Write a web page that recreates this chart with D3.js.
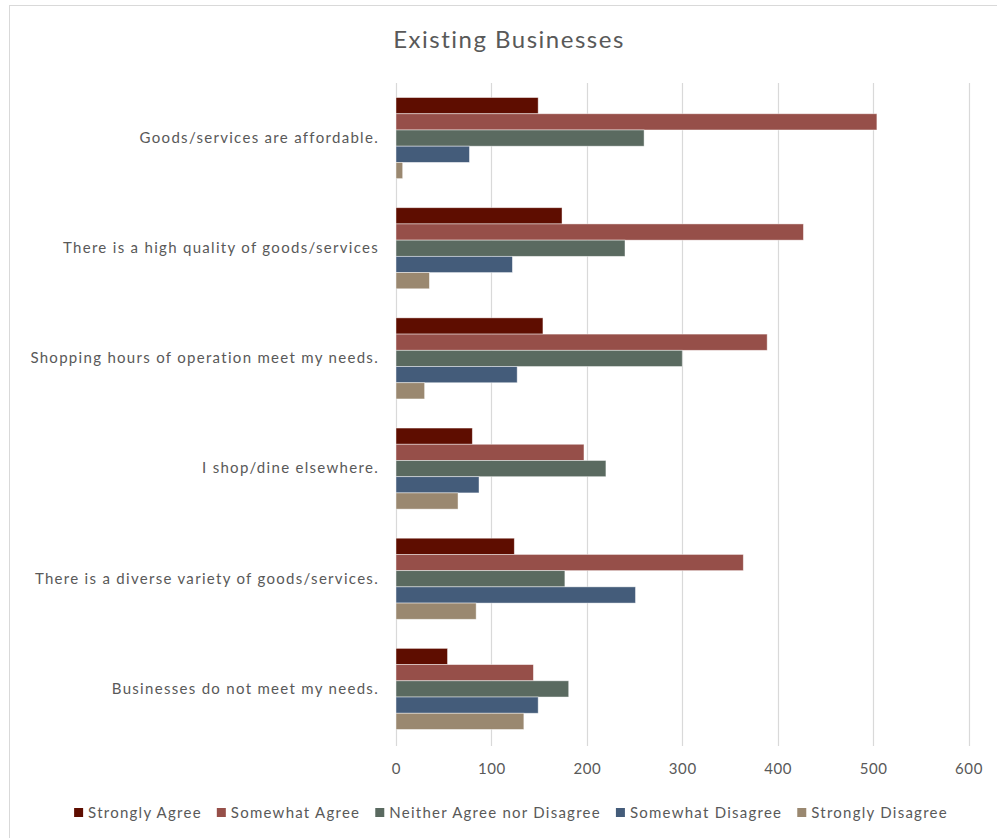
<!DOCTYPE html>
<html>
<head>
<meta charset="utf-8">
<script src="https://cdnjs.cloudflare.com/ajax/libs/d3/7.8.5/d3.min.js"></script>
<style>
  html, body { margin: 0; padding: 0; background: #fff; }
  svg { display: block; }
  text { font-family: Lato, "Open Sans", sans-serif; fill: #595959; }
</style>
</head>
<body>
<svg id="chart" width="997" height="838"></svg>
<script>
// Survey responses about existing businesses
const categories = [
  "Goods/services are affordable.",
  "There is a high quality of goods/services",
  "Shopping hours of operation meet my needs.",
  "I shop/dine elsewhere.",
  "There is a diverse variety of goods/services.",
  "Businesses do not meet my needs."
];
const seriesNames = [
  "Strongly Agree",
  "Somewhat Agree",
  "Neither Agree nor Disagree",
  "Somewhat Disagree",
  "Strongly Disagree"
];
const stronglyAgree     = [149, 174, 154, 80, 124, 54];
const somewhatAgree     = [504, 427, 389, 197, 364, 144];
const neitherAgree      = [260, 240, 300, 220, 177, 181];
const somewhatDisagree  = [77, 122, 127, 87, 251, 149];
const stronglyDisagree  = [7, 35, 30, 65, 84, 134];
const xTicks = [0, 100, 200, 300, 400, 500, 600];
const colors = ["#5E0D00", "#964F49", "#5A6A60", "#445C7A", "#9A8870"];

const seriesValues = [stronglyAgree, somewhatAgree, neitherAgree, somewhatDisagree, stronglyDisagree];

const svg = d3.select("#chart");

// chart frame
svg.append("rect")
  .attr("x", 9.5).attr("y", 5.5)
  .attr("width", 1000).attr("height", 850)
  .attr("fill", "none").attr("stroke", "#d9d9d9").attr("stroke-width", 1);

const plot = { left: 396, right: 968.5, top: 83, bottom: 744 };

const x = d3.scaleLinear().domain([0, 600]).range([plot.left, plot.right]);
const y = d3.scaleBand().domain(categories).range([plot.top, plot.bottom])
  .paddingInner(0.264).paddingOuter(0.132);
const ys = d3.scaleBand().domain(seriesNames).range([0, y.bandwidth()]);

// title
svg.append("text")
  .attr("x", 509).attr("y", 48)
  .attr("text-anchor", "middle")
  .style("font-size", "24px")
  .style("letter-spacing", "1.5px")
  .text("Existing Businesses");

// vertical gridlines
svg.append("g").selectAll("line").data(xTicks).join("line")
  .attr("x1", d => Math.round(x(d)) + 0.5).attr("x2", d => Math.round(x(d)) + 0.5)
  .attr("y1", plot.top).attr("y2", plot.bottom + 2)
  .attr("stroke", "#d9d9d9").attr("stroke-width", 1.2);

// bars
const groups = svg.append("g").selectAll("g").data(categories).join("g")
  .attr("transform", c => `translate(0,${y(c)})`);

groups.selectAll("rect")
  .data((c, i) => seriesNames.map((s, j) => ({ s, j, v: seriesValues[j][i] })))
  .join("rect")
  .attr("x", x(0))
  .attr("y", d => ys(d.s))
  .attr("width", d => x(d.v) - x(0))
  .attr("height", ys.bandwidth())
  .attr("fill", d => colors[d.j])
  .attr("stroke", "rgba(255,255,255,0.55)")
  .attr("stroke-width", 0.8);

// category labels
const yAxis = d3.axisLeft(y).tickSize(0).tickPadding(17);
const yg = svg.append("g").attr("transform", `translate(${plot.left},0)`).call(yAxis);
yg.select(".domain").remove();
yg.selectAll("text")
  .style("font-size", "15px")
  .style("letter-spacing", "1.3px")
  .style("font-family", "Lato, 'Open Sans', sans-serif")
  .attr("fill", "#595959");

// value axis
const xAxis = d3.axisBottom(x).tickValues(xTicks).tickSize(0).tickPadding(19);
const xg = svg.append("g").attr("transform", `translate(0,${plot.bottom})`).call(xAxis);
xg.select(".domain").remove();
xg.selectAll("text")
  .style("font-size", "15px")
  .style("letter-spacing", "0.6px")
  .style("font-family", "Lato, 'Open Sans', sans-serif")
  .attr("fill", "#595959");

// legend
const legend = svg.append("g");
const items = legend.selectAll("g").data(seriesNames).join("g");
items.append("rect")
  .attr("width", 9).attr("height", 9)
  .attr("y", -10)
  .attr("fill", (d, i) => colors[i]);
items.append("text")
  .attr("x", 14).attr("y", 0)
  .style("font-size", "15px")
  .style("letter-spacing", "1.25px")
  .text(d => d);
let cx = 0;
items.each(function () {
  const g = d3.select(this);
  g.attr("transform", `translate(${cx},0)`);
  cx += 14 + g.select("text").node().getComputedTextLength() + 15;
});
const legendWidth = cx - 15;
legend.attr("transform", `translate(${511 - legendWidth / 2},818)`);
</script>
</body>
</html>
